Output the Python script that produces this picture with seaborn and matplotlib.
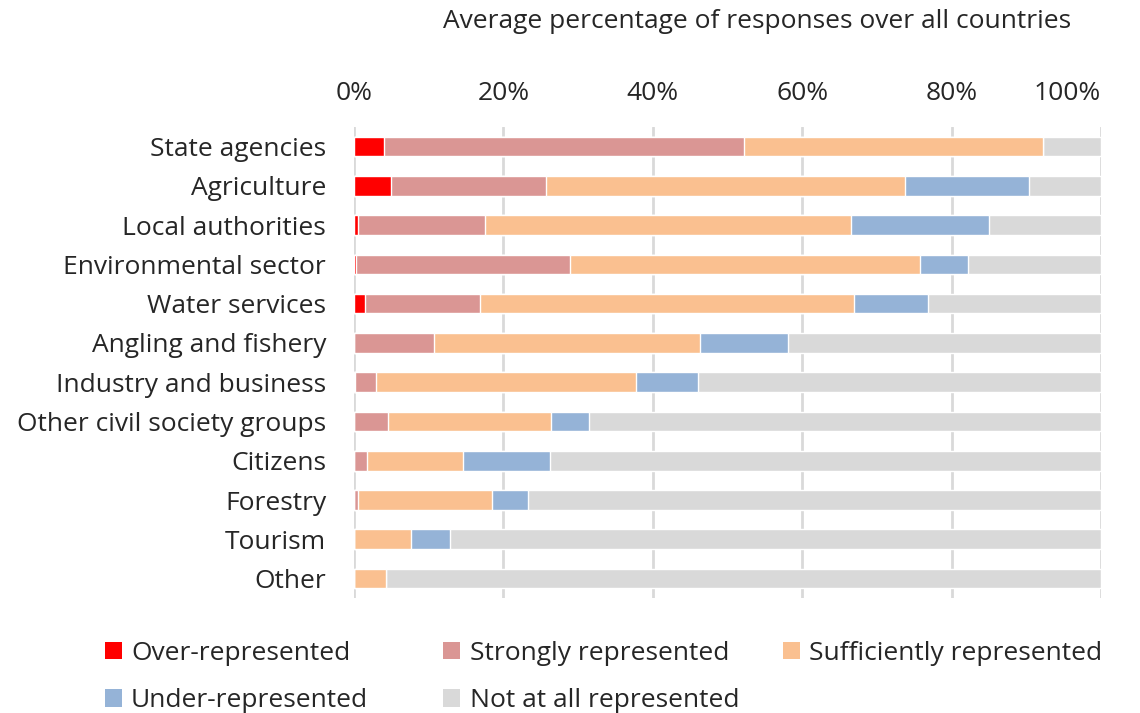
import numpy as np
import pandas as pd
import matplotlib
matplotlib.use("Agg")
import matplotlib.pyplot as plt
import seaborn as sns
from matplotlib.patches import Patch

# データ（読み取り値, %）
categories = [
    "State agencies", "Agriculture", "Local authorities", "Environmental sector",
    "Water services", "Angling and fishery", "Industry and business",
    "Other civil society groups", "Citizens", "Forestry", "Tourism", "Other",
]
over_rep = [4.0, 5.0, 0.5, 0.3, 1.5, 0.0, 0.2, 0.0, 0.0, 0.0, 0.0, 0.0]
strong_rep = [48.2, 20.7, 17.0, 28.6, 15.4, 10.7, 2.8, 4.6, 1.7, 0.5, 0.0, 0.0]
suff_rep = [40.1, 48.1, 49.1, 46.9, 50.0, 35.6, 34.8, 21.8, 12.9, 18.0, 7.7, 4.3]
under_rep = [0.0, 16.6, 18.4, 6.4, 10.0, 11.8, 8.2, 5.1, 11.6, 4.8, 5.1, 0.0]
not_rep = [7.7, 9.6, 15.0, 17.8, 23.1, 41.9, 54.0, 68.5, 73.8, 76.7, 87.2, 95.7]

series_names = ["Over-represented", "Strongly represented", "Sufficiently represented",
                "Under-represented", "Not at all represented"]
colors = ["#FF0000", "#DA9694", "#FAC090", "#95B3D7", "#D9D9D9"]

TEXT = "#262626"
FS = 19


def main():
    sns.set_style("white")
    plt.rcParams["font.family"] = ["Open Sans", "DejaVu Sans"]

    df = pd.DataFrame({"category": categories})
    values = [over_rep, strong_rep, suff_rep, under_rep, not_rep]
    cum = np.cumsum(np.array(values), axis=0)
    for name, c in zip(series_names, cum):
        df[name] = c

    fig = plt.figure(figsize=(11.4, 7.13), dpi=100)
    ax = fig.add_axes([0.3105, 0.161, 0.6553, 0.661])

    # 累積値の大きい方から描画して積み上げを表現
    for name, color in reversed(list(zip(series_names, colors))):
        sns.barplot(data=df, x=name, y="category", order=categories, color=color,
                    width=0.5, saturation=1, ax=ax, zorder=3)

    ax.set_xlim(0, 100)
    ax.set_ylim(11.5, -0.5)
    ax.xaxis.tick_top()
    ax.xaxis.set_label_position("top")
    ax.set_xticks(range(0, 101, 20))
    ax.set_xticklabels([f"{t}%" for t in range(0, 101, 20)])
    ax.get_xticklabels()[-1].set_horizontalalignment("right")
    ax.set_xlabel("Average percentage of responses over all countries",
                  fontsize=FS, color=TEXT)
    ax.xaxis.set_label_coords(0.54, 1.223)
    ax.xaxis.label.set_verticalalignment("center")
    ax.set_ylabel("")
    ax.tick_params(axis="x", length=0, pad=15, labelsize=FS, colors=TEXT)
    ax.tick_params(axis="y", length=0, pad=20, labelsize=FS, colors=TEXT)
    ax.grid(axis="x", color="#D9D9D9", linewidth=2, zorder=0)
    ax.set_axisbelow(True)
    for s in ax.spines.values():
        s.set_visible(False)

    # 凡例（Excel風に列ごとに配置）
    handles = [Patch(facecolor=c, edgecolor="none") for c in colors]
    columns = [([0, 3], 0.092), ([1, 4], 0.389), ([2], 0.687)]
    for idx, x0 in columns:
        fig.legend([handles[i] for i in idx], [series_names[i] for i in idx],
                   loc="upper left", bbox_to_anchor=(x0, 0.101), ncol=1,
                   frameon=False, fontsize=FS, handlelength=0.64, handleheight=0.64,
                   handletextpad=0.35, labelspacing=0.85, borderpad=0,
                   borderaxespad=0, labelcolor=TEXT)

    fig.savefig("out.png", dpi=100)


if __name__ == "__main__":
    main()
